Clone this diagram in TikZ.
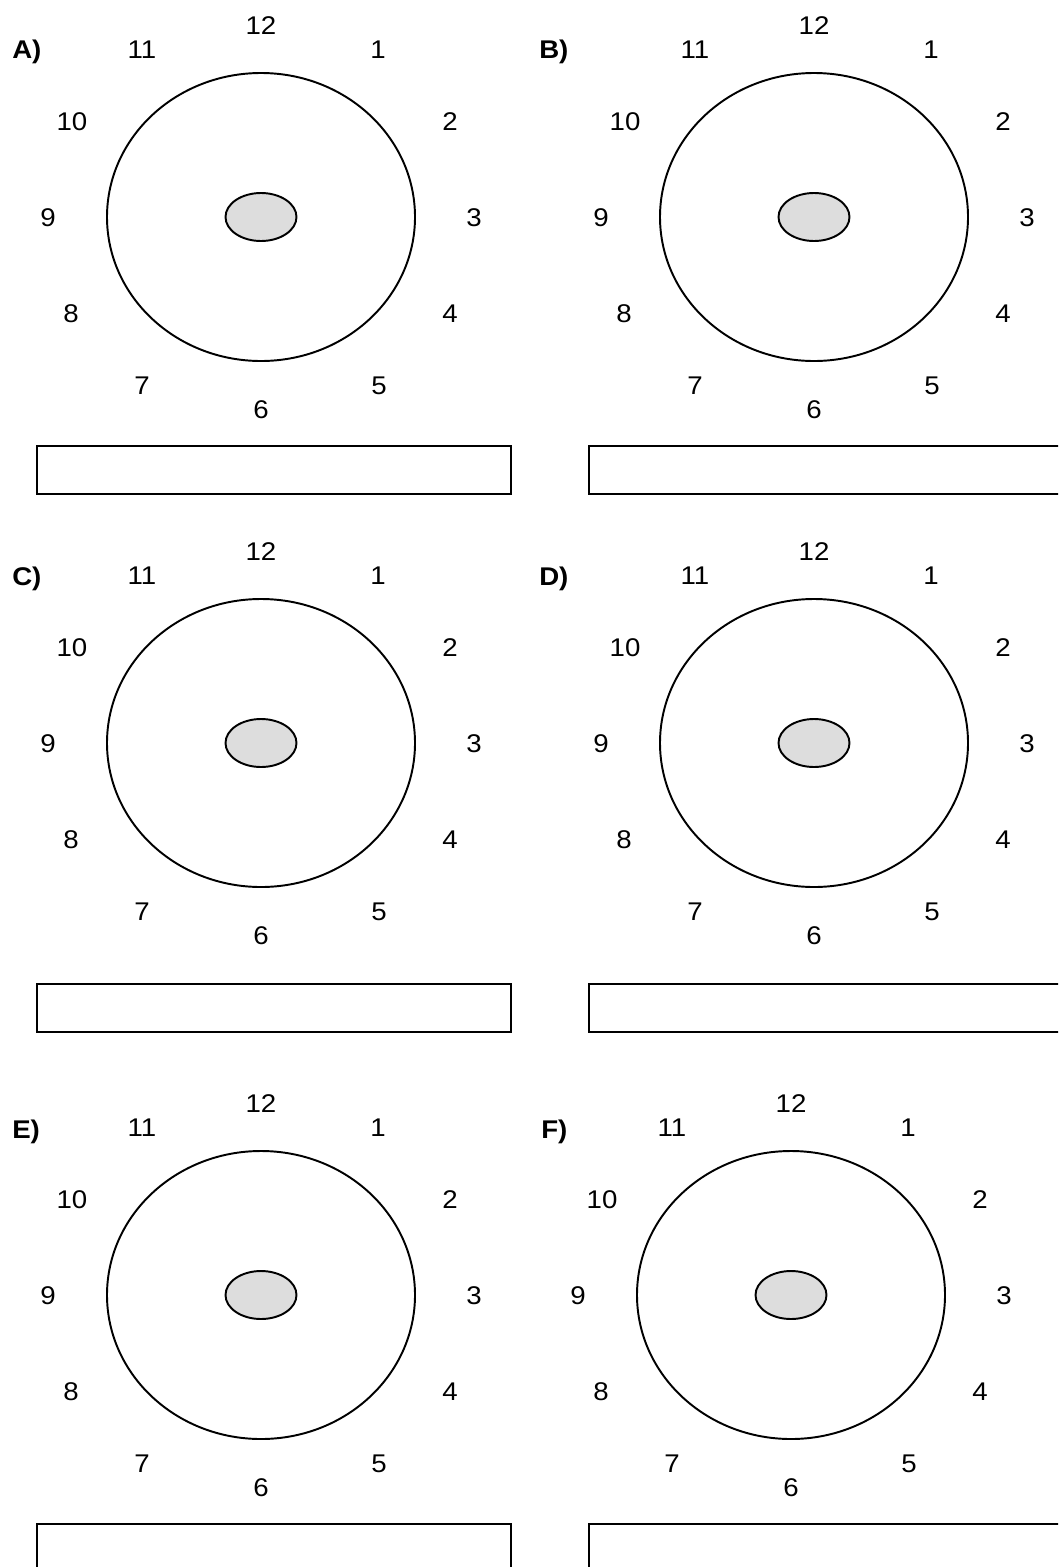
\documentclass[tikz,border=0pt]{standalone}
\usepackage{fontspec}
\setmainfont[FakeStretch=1.08]{Liberation Sans}
\usetikzlibrary{shapes.geometric}
\definecolor{nucleus}{HTML}{DDDDDD}
\tikzset{
  face/.style={draw=black, line width=1.45pt, ellipse, minimum width=231pt, minimum height=216pt, inner sep=0pt},
  core/.style={draw=black, line width=1.45pt, ellipse, fill=nucleus, minimum width=53.25pt, minimum height=36pt, inner sep=0pt},
  hour/.style={font=\fontsize{19.2}{22}\selectfont, inner sep=0pt},
  tag/.style={font=\bfseries\fontsize{19.2}{22}\selectfont, inner sep=0pt, anchor=base west},
  answer/.style={draw=black, line width=1.45pt, rectangle, minimum width=355.5pt, minimum height=36pt, inner sep=0pt, anchor=north west},
}
\newcommand\clockpanel[8]{%
  \begin{scope}[shift={(#2,#3)}]
    \node[face] (#1face) at (0,0) {};
    \node[core] (#1core) at (0,0) {};
    \node[hour] (#1h12) at (0,-191) {12};
    \node[hour] (#1h1) at (117,-167) {1};
    \node[hour] (#1h2) at (189,-95) {2};
    \node[hour] (#1h3) at (213,1) {3};
    \node[hour] (#1h4) at (189,97) {4};
    \node[hour] (#1h5) at (118,169) {5};
    \node[hour] (#1h6) at (0,193) {6};
    \node[hour] (#1h7) at (-119,169) {7};
    \node[hour] (#1h8) at (-190,97) {8};
    \node[hour] (#1h9) at (-213,1) {9};
    \node[hour] (#1h10) at (-189,-95) {10};
    \node[hour] (#1h11) at (-119,-167) {11};
  \end{scope}
  \node[tag] (#1tag) at (#5,#6) {#4};
  \node[answer] (#1box) at (#7,#8) {};
}
\begin{document}
\begin{tikzpicture}[x=0.75pt, y=-0.75pt]
  \useasboundingbox (0,0) rectangle (1058,1567);
  \fill[white] (0,0) rectangle (1058,1567);
  \clip (0,0) rectangle (1058,1567);
  \clockpanel{A}{261}{217}{A)}{12}{58.5}{36}{445}
  \clockpanel{B}{814}{217}{B)}{539}{58.5}{588}{445}
  \clockpanel{C}{261}{743}{C)}{12}{585}{36}{983}
  \clockpanel{D}{814}{743}{D)}{539}{585}{588}{983}
  \clockpanel{E}{261}{1295}{E)}{12}{1138}{36}{1523}
  \clockpanel{F}{791}{1295}{F)}{541}{1138}{588}{1523}
\end{tikzpicture}
\end{document}
